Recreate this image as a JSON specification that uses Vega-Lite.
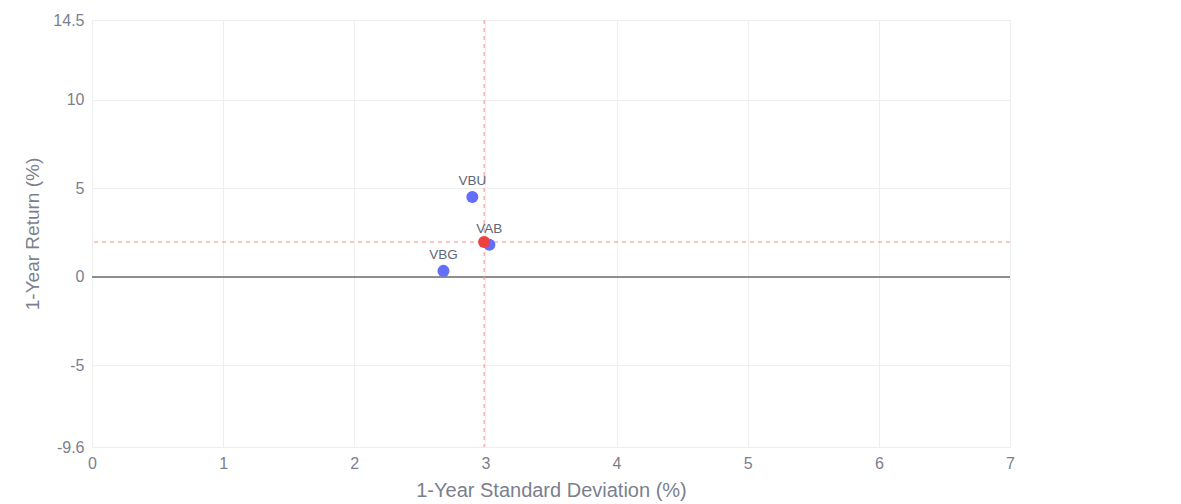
{
  "$schema": "https://vega.github.io/schema/vega-lite/v6.json",
  "width": 918,
  "height": 427,
  "autosize": "none",
  "padding": {"left": 92, "top": 20, "right": 171, "bottom": 57},
  "background": "white",
  "config": {"view": {"stroke": null}, "font": "Liberation Sans"},
  "datasets": {
    "funds": [
      {"ticker": "VBU", "sd": 2.90, "ret": 4.51},
      {"ticker": "VAB", "sd": 3.03, "ret": 1.81},
      {"ticker": "VBG", "sd": 2.68, "ret": 0.34}
    ],
    "bench": [{"sd": 2.99, "ret": 1.97}],
    "zero": [{"ret": 0}]
  },
  "layer": [
    {
      "data": {"name": "zero"},
      "mark": {"type": "rule", "color": "#6b6b6b", "strokeWidth": 1.5},
      "encoding": {"y": {"field": "ret", "type": "quantitative", "scale": {"domain": [-9.6, 14.5], "nice": false, "zero": false}}}
    },
    {
      "data": {"name": "bench"},
      "mark": {"type": "rule", "color": "#f28b8b", "strokeDash": [4, 4], "strokeWidth": 1},
      "encoding": {"x": {"field": "sd", "type": "quantitative"}}
    },
    {
      "data": {"name": "bench"},
      "mark": {"type": "rule", "color": "#f28b8b", "strokeDash": [4, 4], "strokeWidth": 1},
      "encoding": {"y": {"field": "ret", "type": "quantitative"}}
    },
    {
      "data": {"name": "funds"},
      "mark": {"type": "circle", "size": 145, "color": "#636efa", "opacity": 1},
      "encoding": {
        "x": {
          "field": "sd", "type": "quantitative",
          "scale": {"domain": [0, 7], "nice": false, "zero": false},
          "axis": {
            "title": "1-Year Standard Deviation (%)", "values": [0, 1, 2, 3, 4, 5, 6, 7],
            "labelExpr": "'' + datum.value",
            "domain": false, "ticks": false, "labelPadding": 8,
            "labelFontSize": 16, "labelColor": "#7b7f8e", "titleFontSize": 20, "titleFontWeight": "normal",
            "titleColor": "#7b7f8e", "titlePadding": 9, "gridColor": "#eeeeee", "labelFlush": false
          }
        },
        "y": {
          "field": "ret", "type": "quantitative",
          "scale": {"domain": [-9.6, 14.5], "nice": false, "zero": false},
          "axis": {
            "title": "1-Year Return (%)", "values": [-9.6, -5, 0, 5, 10, 14.5],
            "labelExpr": "'' + datum.value",
            "domain": false, "ticks": false, "labelPadding": 8,
            "labelFontSize": 16, "labelColor": "#7b7f8e", "titleFontSize": 19, "titleFontWeight": "normal",
            "titleColor": "#7b7f8e", "titlePadding": 10, "gridColor": "#eeeeee", "labelFlush": false
          }
        }
      }
    },
    {
      "data": {"name": "bench"},
      "mark": {"type": "circle", "size": 145, "color": "#ef4040", "opacity": 1},
      "encoding": {"x": {"field": "sd", "type": "quantitative"}, "y": {"field": "ret", "type": "quantitative"}}
    },
    {
      "data": {"name": "funds"},
      "mark": {"type": "text", "dy": -16, "fontSize": 13.5, "color": "#5f6675"},
      "encoding": {
        "x": {"field": "sd", "type": "quantitative"},
        "y": {"field": "ret", "type": "quantitative"},
        "text": {"field": "ticker"}
      }
    }
  ]
}
